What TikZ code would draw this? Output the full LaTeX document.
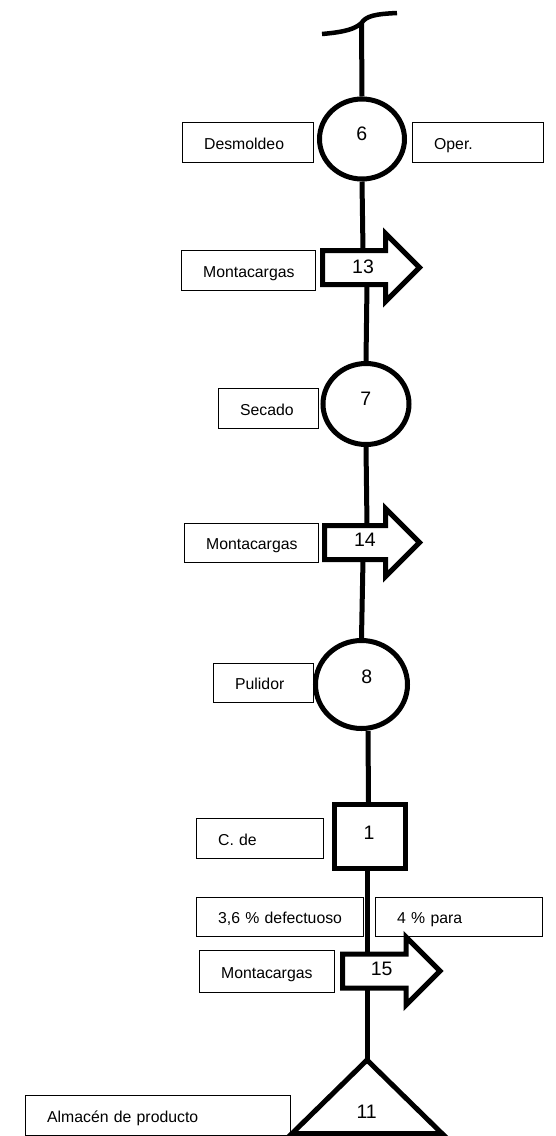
\documentclass[tikz,border=0pt]{standalone}
\usepackage{fontspec}
\setmainfont{Liberation Sans}
\usetikzlibrary{shapes.geometric}
\begin{document}
\begin{tikzpicture}[x=1pt,y=-1pt,
  flow/.style={line width=5pt},
  etiqueta/.style={draw=black, line width=1.3pt, anchor=north west,
    inner xsep=21.5pt, inner ysep=0pt, align=left,
    text height=13pt, text depth=0pt, font=\fontsize{15.8}{18}\selectfont},
  numero/.style={inner sep=0pt, font=\fontsize{19.5}{22}\selectfont},
  operacion/.style={ellipse, draw, line width=5pt, inner sep=0pt},
  inspeccion/.style={rectangle, draw, line width=5pt, inner sep=0pt},
  pics/flecha/.style={code={
    \draw[line width=5pt, fill=white, miter limit=10]
      (0,0) -- ++(#1,0) -- ++(0,-17) -- ++(34,34) -- ++(-34,34)
      -- ++(0,-17) -- ++(-#1,0) -- cycle;}}
]
\useasboundingbox (0,0) rectangle (555,1136);

% break mark at the top of the flow line
\coordinate (t) at (361.5,23);
\draw[line width=4.5pt] (322,34) .. controls (345,32) and (355,29) .. (t)
  .. controls (366,16) and (375,14) .. (397,13);

% operations
\node[operacion, minimum width=85pt, minimum height=80pt] (c6) at (362,139) {};
\node[numero] (n6) at (361.7,133.3) {6};
\node[operacion, minimum width=86pt, minimum height=81pt] (c7) at (366,404) {};
\node[numero] (n7) at (365.7,398.3) {7};
\node[operacion, minimum width=92pt, minimum height=88pt] (c8) at (361.5,684.5) {};
\node[numero] (n8) at (366.7,676.7) {8};

% inspection
\node[inspeccion, minimum width=71pt, minimum height=64pt] (s1) at (370,836.5) {};
\node[numero] (n1) at (369,833) {1};

% transports
\pic at (322.5,250.5) {flecha=63};
\node[numero] (n13) at (363,266.7) {13};
\coordinate (a13t) at (363,250.5);
\coordinate (a13b) at (367,284.5);

\pic at (324.5,525.5) {flecha=61};
\node[numero] (n14) at (365,540) {14};
\coordinate (a14t) at (367,525.5);
\coordinate (a14b) at (363,559.5);

\pic at (342.5,954) {flecha=63.5};
\node[numero] (n15) at (381.7,969) {15};
\coordinate (a15t) at (367,954);
\coordinate (a15b) at (367,989);

% storage
\coordinate (t11) at (367,1060);
\draw[flow] (t11) -- (442,1133.5) -- (292,1133.5) -- cycle;
\node[numero] (n11) at (366.7,1111.7) {11};

% flow line
\draw[flow] (t) -- (c6.north);
\draw[flow] (c6.south) -- (a13t);
\draw[flow] (a13b) -- (c7.north);
\draw[flow] (c7.south) -- (a14t);
\draw[flow] (a14b) -- (c8.north);
\draw[flow] ([xshift=6.5pt]c8.south) -- ([xshift=-1.5pt]s1.north);
\draw[flow] ([xshift=-3pt]s1.south) -- (a15t);
\draw[flow] (a15b) -- (t11);

% text boxes
\node[etiqueta, text width=88pt, minimum height=40pt] (l6a) at (182,122) {Desmoldeo};
\node[etiqueta, text width=88pt, minimum height=40pt] (l6b) at (412,122) {Oper.};
\node[etiqueta, text width=91pt, minimum height=40pt] (l13) at (181,250) {Montacargas};
\node[etiqueta, text width=57pt, minimum height=40pt] (l7) at (218,388) {Secado};
\node[etiqueta, text width=91pt, minimum height=39pt] (l14) at (184,523) {Montacargas};
\node[etiqueta, text width=57pt, minimum height=39pt] (l8) at (213,663) {Pulidor};
\node[etiqueta, text width=84pt, minimum height=40pt] (l1) at (196,818) {C. de};
\node[etiqueta, text width=124pt, minimum height=39pt] (l1a) at (196,897) {3,6 \% defectuoso};
\node[etiqueta, text width=124pt, minimum height=39pt] (l1b) at (375,897) {4 \% para};
\node[etiqueta, text width=92pt, minimum height=42pt] (l15) at (199,950) {Montacargas};
\node[etiqueta, text width=222pt, minimum height=40pt] (l11) at (25,1095) {Almacén de producto};
\end{tikzpicture}
\end{document}
